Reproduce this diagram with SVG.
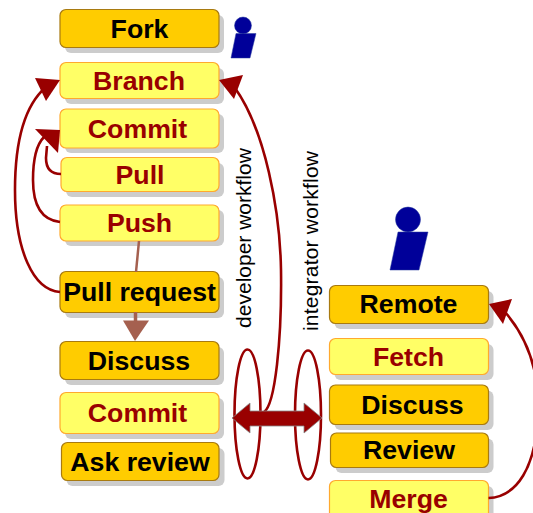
<svg xmlns="http://www.w3.org/2000/svg" width="533" height="513" viewBox="0 0 533 513">
<style>
.s{fill:#ccc}
.o{fill:#ffcc00;stroke:#a87a10;stroke-width:1.2}
.y{fill:#ffff66;stroke:#ffa92e;stroke-width:1.2}
text{font-family:"Liberation Sans",Arial,sans-serif;text-anchor:middle}
.b{font-weight:bold;font-size:26.7px;fill:#000}
.r{font-weight:bold;font-size:26.7px;fill:#990000}
.v{font-size:21px;fill:#000}
.c{fill:none;stroke:#990000;stroke-width:2.6}
.h{fill:#990000}
.p{fill:#000099;stroke:#2a3f9f;stroke-width:.5}
</style>
<g id="user-dev"><circle class="p" cx="243" cy="25.500" r="8.500"/><path class="p" d="M236 33.500H256L250 58H231Z"/></g>
<g id="user-int"><circle class="p" cx="408" cy="219.500" r="12.500"/><path class="p" d="M398 232H428L419 270H390Z"/></g>
<g id="fork"><rect class="s" x="65" y="15" width="159" height="38" rx="6"/><rect class="o" x="60" y="9.500" width="159" height="38" rx="6"/><text class="b" x="139.500" y="38">Fork</text></g>
<g id="branch"><rect class="s" x="65" y="68" width="159" height="36" rx="6"/><rect class="y" x="60" y="62.500" width="159" height="36" rx="6"/><text class="r" x="139" y="90">Branch</text></g>
<g id="commit1"><rect class="s" x="65" y="114" width="159" height="39" rx="6"/><rect class="y" x="60" y="109" width="159" height="39" rx="6"/><text class="r" x="137.500" y="138">Commit</text></g>
<g id="pull"><rect class="s" x="66" y="163" width="158" height="34" rx="6"/><rect class="y" x="61" y="157.500" width="158" height="34" rx="6"/><text class="r" x="140" y="184">Pull</text></g>
<g id="push"><rect class="s" x="65" y="210" width="159" height="36" rx="6"/><rect class="y" x="60" y="205" width="159" height="36" rx="6"/><text class="r" x="139.500" y="232">Push</text></g>
<g id="pull-request"><rect class="s" x="65" y="277" width="159" height="41" rx="6"/><rect class="o" x="60" y="271.500" width="159" height="41" rx="6"/><text class="b" x="139.500" y="301">Pull request</text></g>
<g id="discuss1"><rect class="s" x="65" y="347" width="159" height="38" rx="6"/><rect class="o" x="60" y="341.500" width="159" height="38" rx="6"/><text class="b" x="139" y="370">Discuss</text></g>
<g id="commit2"><rect class="s" x="65" y="398" width="159" height="41" rx="6"/><rect class="y" x="60" y="392.500" width="159" height="41" rx="6"/><text class="r" x="137.500" y="422">Commit</text></g>
<g id="ask-review"><rect class="s" x="66.500" y="448" width="158" height="38" rx="6"/><rect class="o" x="61.500" y="442.500" width="157.500" height="38" rx="6"/><text class="b" x="140" y="471">Ask review</text></g>
<g id="remote"><rect class="s" x="334.500" y="291" width="159" height="38" rx="6"/><rect class="o" x="329.500" y="285.500" width="159" height="38" rx="6"/><text class="b" x="408.500" y="313">Remote</text></g>
<g id="fetch"><rect class="s" x="334.500" y="344" width="159" height="36" rx="6"/><rect class="y" x="329.500" y="338.500" width="159" height="36" rx="6"/><text class="r" x="408.500" y="366">Fetch</text></g>
<g id="discuss2"><rect class="s" x="334.500" y="390.500" width="159" height="39.500" rx="6"/><rect class="o" x="329.500" y="385" width="159" height="39.500" rx="6"/><text class="b" x="412.500" y="414">Discuss</text></g>
<g id="review"><rect class="s" x="335.500" y="438.500" width="158" height="34.500" rx="6"/><rect class="o" x="330.500" y="433" width="158" height="34.500" rx="6"/><text class="b" x="409" y="459">Review</text></g>
<g id="merge"><rect class="s" x="334.500" y="486" width="159" height="40" rx="6"/><rect class="y" x="329.500" y="480.500" width="159" height="40" rx="6"/><text class="r" x="408.500" y="508">Merge</text></g>
<g id="labels"><text class="v" transform="translate(251 238) rotate(-90)">developer workflow</text><text class="v" transform="translate(318 241) rotate(-90)" textLength="180">integrator workflow</text></g>
<g id="connectors">
<path d="M139 241L136 272" fill="none" stroke="#a5604f" stroke-width="2.500"/>
<path d="M135.500 312V322" fill="none" stroke="#a5604f" stroke-width="3.500"/>
<path d="M123 320.500H149L135 341Z" fill="#a5604f"/>
<path class="c" d="M60 292C33 290 15 250 15 190C15 140 25 105 46 87"/>
<path class="h" d="M60 80L35 78L46 101Z"/>
<path class="c" d="M60 222C42 220 33 205 33 180C33 160 36 145 44 137"/>
<path class="c" d="M61 174C50 174 46 167 46 158L47 146"/>
<path class="h" d="M60 130L35 129L58 153Z"/>
<path class="c" d="M264 412C275 405 282 340 281 270C280 210 265 130 235 88"/>
<path class="h" d="M219 80L243 75L234 99Z"/>
<path class="c" d="M488.500 498C515 497 538 470 538 405C538 365 525 335 505 312"/>
<path class="h" d="M489 304L512 299L503 324Z"/>
<ellipse class="c" cx="247.500" cy="414" rx="13" ry="64.500"/>
<ellipse class="c" cx="308" cy="415" rx="13" ry="64.500"/>
<path d="M232 418L250 403V411H304V403L322 418L304 433V426H250V433Z" fill="#990000" stroke="#888" stroke-width=".8"/>
</g>
</svg>
